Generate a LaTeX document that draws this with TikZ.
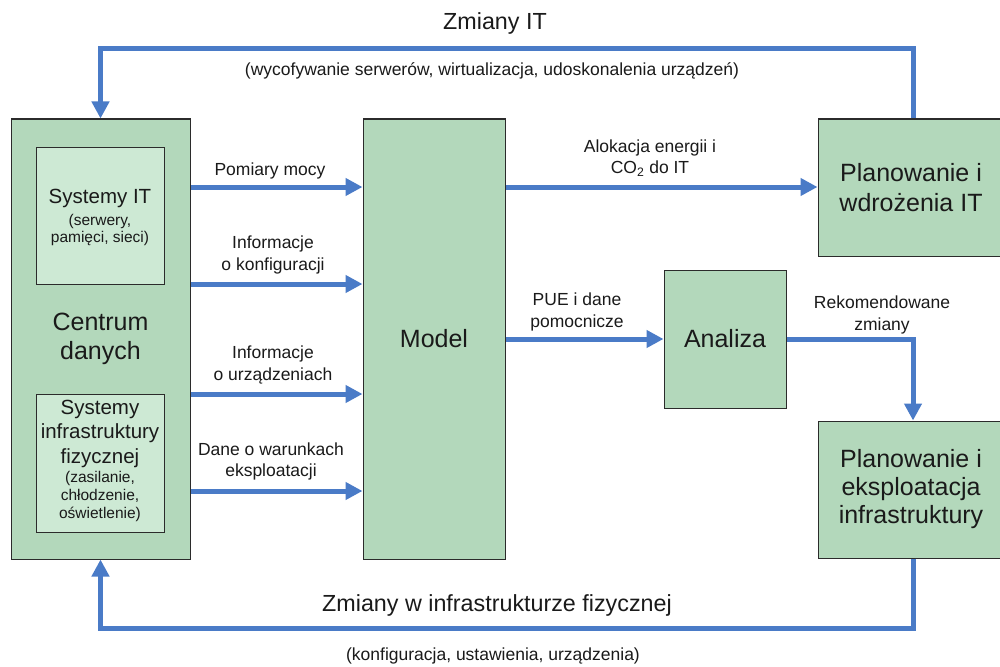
\documentclass[tikz,border=0pt]{standalone}
\usepackage{fontspec}
\setmainfont{Liberation Sans}
\usetikzlibrary{arrows.meta}
\definecolor{boxgreen}{HTML}{B3D8BB}
\definecolor{innergreen}{HTML}{CDE9D4}
\definecolor{arrowblue}{HTML}{4A7BC7}
\definecolor{edgegray}{HTML}{2B2B2B}
\definecolor{txt}{HTML}{1A1A1A}
\begin{document}
\begin{tikzpicture}[x=1pt,y=-1pt,
  box/.style={draw=edgegray, line width=1pt, fill=boxgreen, inner sep=0pt, align=center, text=txt},
  innerbox/.style={box, fill=innergreen},
  bigtext/.style={font=\fontsize{25}{29}\selectfont},
  lbl/.style={font=\fontsize{17.5}{21.5}\selectfont, align=center, text=txt, inner sep=0pt},
  headlbl/.style={font=\fontsize{23.3}{27}\selectfont, align=center, text=txt, inner sep=0pt},
  midtext/.style={font=\fontsize{20.5}{24.5}\selectfont, align=center, text=txt, inner sep=0pt},
  smalltext/.style={font=\fontsize{15.5}{18}\selectfont, align=center, text=txt, inner sep=0pt},
  arr/.style={draw=arrowblue, line width=5pt, line join=miter, -{Triangle[length=17pt,width=17pt]}},
]
\useasboundingbox[fill=white] (0,0) rectangle (1000,666);

% helper coordinates
\coordinate (xr) at (913,0);
\coordinate (ytop) at (0,49);
\coordinate (ybot) at (0,628);
\coordinate (y1) at (0,187);
\coordinate (y2) at (0,284);
\coordinate (y3) at (0,394);
\coordinate (y4) at (0,491);

% boxes
\node[box, minimum width=179pt, minimum height=440pt, bigtext] (dc) at (100.5,339) {Centrum\\danych};
\node[innerbox, minimum width=128pt, minimum height=137pt] (sysit) at (100,215.5) {};
\node[innerbox, minimum width=128pt, minimum height=138pt] (sysinf) at (100,463) {};
\node[box, minimum width=142pt, minimum height=440pt, bigtext] (model) at (434,339) {Model};
\node[box, minimum width=186pt, minimum height=137pt, font=\fontsize{25}{30}\selectfont] (planit) at (911,187.5) {Planowanie i\\wdrożenia IT};
\node[box, minimum width=122pt, minimum height=138pt, bigtext] (analiza) at (725,339) {Analiza};
\node[box, minimum width=186pt, minimum height=137pt, font=\fontsize{25}{28}\selectfont] (planinf) at (911,489.5) {Planowanie i\\eksploatacja\\infrastruktury};

% inner box texts
\node[midtext] (sysitA) at (100,198) {Systemy IT};
\node[smalltext, font=\fontsize{15.5}{16.5}\selectfont] (sysitB) at (100,230) {(serwery,\\pamięci, sieci)};
\node[midtext] (sysinfA) at (100,433.5) {Systemy\\infrastruktury\\fizycznej};
\node[smalltext] (sysinfB) at (100,496.5) {(zasilanie,\\chłodzenie,\\oświetlenie)};

% left arrows
\draw[arr] (dc.east |- y1) -- (model.west |- y1);
\draw[arr] (dc.east |- y2) -- (model.west |- y2);
\draw[arr] (dc.east |- y3) -- (model.west |- y3);
\draw[arr] (dc.east |- y4) -- (model.west |- y4);

% right arrows
\draw[arr] (model.east |- y1) -- (planit.west |- y1);
\draw[arr] (model.east |- analiza.west) -- (analiza.west);
\draw[arr] (analiza.east) -| (planinf.north -| xr);

% feedback loops
\draw[arr] (planit.north -| xr) -- (xr |- ytop) -- (dc.north |- ytop) -- (dc.north);
\draw[arr] (planinf.south -| xr) -- (xr |- ybot) -- (dc.south |- ybot) -- (dc.south);

% labels
\node[lbl] (l1) at (270,171) {Pomiary mocy};
\node[lbl] (l2) at (273,255) {Informacje\\o konfiguracji};
\node[lbl] (l3) at (273,365) {Informacje\\o urządzeniach};
\node[lbl] (l4) at (271,461.5) {Dane o warunkach\\eksploatacji};
\node[lbl] (l5) at (650,158) {Alokacja energii i\\CO\textsubscript{2} do IT};
\node[lbl] (l6) at (577,312) {PUE i dane\\pomocnicze};
\node[lbl] (l7) at (882,315) {Rekomendowane\\zmiany};

\node[headlbl] (ztop) at (495,23) {Zmiany IT};
\node[lbl] (ztopsub) at (492,71) {(wycofywanie serwerów, wirtualizacja, udoskonalenia urządzeń)};
\node[headlbl] (zbot) at (497,605) {Zmiany w infrastrukturze fizycznej};
\node[lbl] (zbotsub) at (493,656) {(konfiguracja, ustawienia, urządzenia)};
\end{tikzpicture}
\end{document}
